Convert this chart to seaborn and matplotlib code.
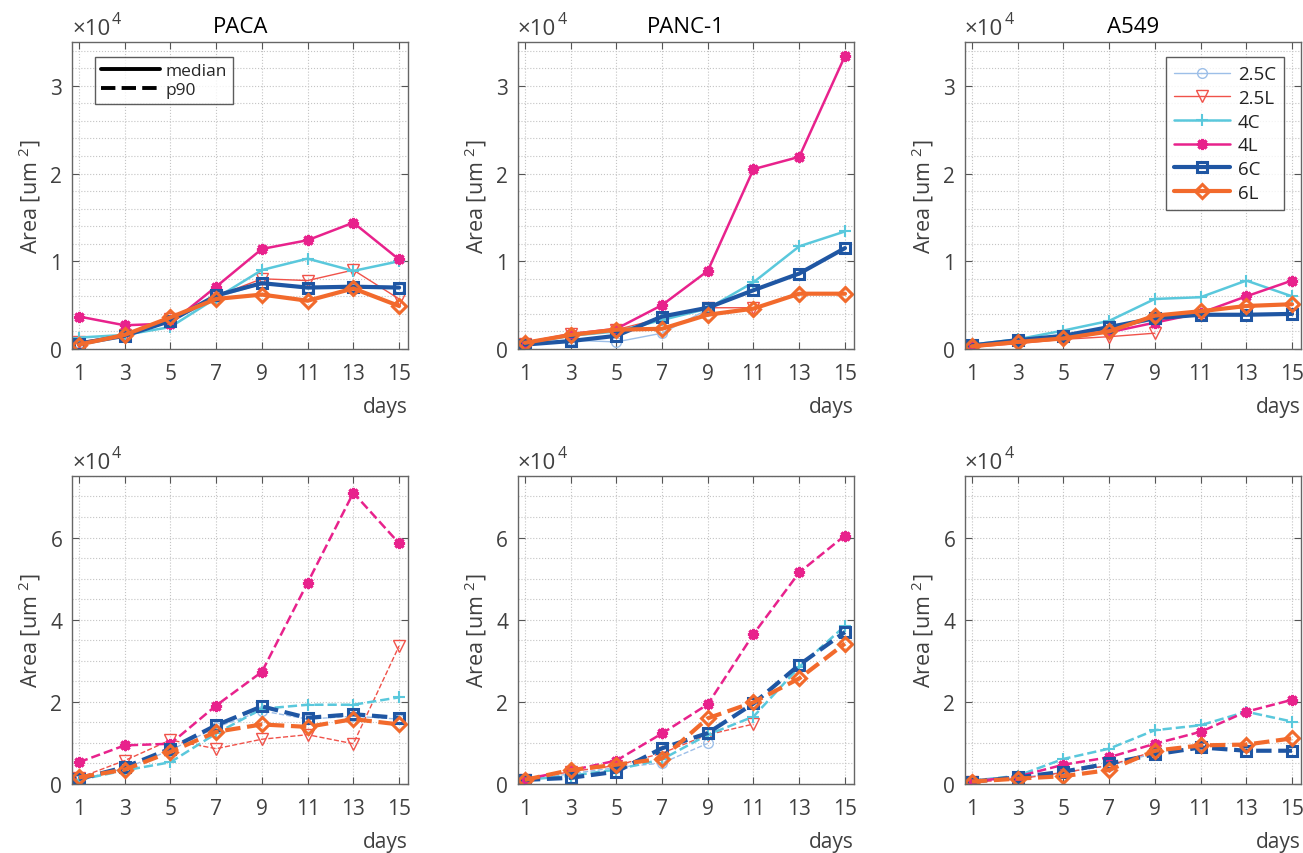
import matplotlib
matplotlib.use("Agg")
import pandas as pd
import matplotlib.pyplot as plt
import seaborn as sns
from matplotlib.ticker import MultipleLocator, FuncFormatter
from matplotlib.lines import Line2D

# Data (area in um^2)
days = [1, 3, 5, 7, 9, 11, 13, 15]
conditions = ["2.5C", "2.5L", "4C", "4L", "6C", "6L"]
cell_lines = ["PACA", "PANC-1", "A549"]

paca_median = {
    "2.5C": [700, 1500, 3100, 5900, 7400, 6900, 7000, 6900],
    "2.5L": [800, 1600, 3400, 6000, 8000, 7800, 9000, 5700],
    "4C": [1300, 1600, 2500, 5800, 9000, 10300, 8900, 10000],
    "4L": [3700, 2700, 2900, 7100, 11400, 12400, 14400, 10200],
    "6C": [600, 1500, 3200, 6100, 7500, 7000, 7100, 7000],
    "6L": [500, 1600, 3600, 5700, 6200, 5500, 6900, 4900],
}
panc_median = {
    "2.5C": [500, 1000, 800, 1800, 4500],
    "2.5L": [600, 1700, 2200, 3500, 4700, 4700],
    "4C": [600, 1500, 2000, 3300, 4600, 7600, 11700, 13400],
    "4L": [700, 1700, 2300, 5000, 8900, 20500, 21900, 33400],
    "6C": [500, 900, 1500, 3700, 4700, 6700, 8600, 11500],
    "6L": [700, 1600, 2200, 2300, 3900, 4600, 6300, 6300],
}
a549_median = {
    "2.5C": [400, 900, 1400, 2300, 3300],
    "2.5L": [200, 600, 1100, 1400, 1800],
    "4C": [500, 1100, 2100, 3200, 5700, 5900, 7800, 6000],
    "4L": [400, 900, 1500, 1900, 3000, 4100, 6000, 7800],
    "6C": [400, 1000, 1500, 2500, 3500, 3900, 3900, 4000],
    "6L": [300, 800, 1200, 2000, 3800, 4300, 4900, 5100],
}
paca_p90 = {
    "2.5C": [1000, 3800, 8200, 13800, 17800, 15800, 16500, 15800],
    "2.5L": [1500, 5700, 10700, 8600, 10900, 12000, 9800, 33600],
    "4C": [1000, 3300, 5300, 12300, 18300, 19300, 19300, 21100],
    "4L": [5300, 9400, 9800, 19100, 27300, 49000, 70900, 58600],
    "6C": [1200, 4100, 8600, 14300, 18900, 16100, 17000, 16100],
    "6L": [1600, 3500, 7800, 12700, 14500, 13900, 15800, 14500],
}
panc_p90 = {
    "2.5C": [800, 2500, 4000, 5100, 9900],
    "2.5L": [1000, 3000, 4500, 7500, 12000, 14600],
    "4C": [1000, 2000, 3500, 6000, 12000, 16400, 28500, 38500],
    "4L": [1200, 3300, 5700, 12300, 19400, 36500, 51500, 60500],
    "6C": [1000, 1500, 3000, 8700, 12400, 19600, 29000, 37000],
    "6L": [1000, 3400, 4700, 6200, 16000, 19900, 25700, 34200],
}
a549_p90 = {
    "2.5C": [500, 1500, 2800, 4500, 7500],
    "2.5L": [400, 1200, 2800, 4500, 8000],
    "4C": [800, 2000, 6100, 8600, 13100, 14300, 17600, 15200],
    "4L": [600, 1800, 4700, 6500, 9800, 12700, 17600, 20500],
    "6C": [600, 1600, 3000, 5000, 7200, 8900, 8100, 8100],
    "6L": [600, 1300, 1900, 3400, 8100, 9400, 9600, 11100],
}

# Styles
colors = {"2.5C": "#9dbfe8", "2.5L": "#f0524a", "4C": "#5ac8dc",
          "4L": "#e8228c", "6C": "#1f56a3", "6L": "#f26a2c"}
markers = {"2.5C": "o", "2.5L": "v", "4C": "+", "4L": (8, 2, 0),
           "6C": "s", "6L": "D"}
widths = {"2.5C": 1.0, "2.5L": 1.0, "4C": 1.8, "4L": 1.8, "6C": 3.0, "6L": 3.0}
msizes = {"2.5C": 7, "2.5L": 8, "4C": 9, "4L": 8, "6C": 6.5, "6L": 7.5}
mews = {"2.5C": 1.0, "2.5L": 1.0, "4C": 1.5, "4L": 2.2, "6C": 2.2, "6L": 2.2}

sns.set_theme(style="ticks")
plt.rcParams["font.family"] = ["Open Sans", "DejaVu Sans"]
plt.rcParams["mathtext.fontset"] = "custom"
plt.rcParams["mathtext.rm"] = "Open Sans"
plt.rcParams["mathtext.it"] = "Open Sans:italic"
plt.rcParams["mathtext.bf"] = "Open Sans:bold"

fig = plt.figure(figsize=(13.03, 8.54), dpi=100)
lefts = [0.0553, 0.3975, 0.7406]
rows = [
    (0.5902, 0.3595, [paca_median, panc_median, a549_median], "-", 35000, 10000, 2000),
    (0.0808, 0.3607, [paca_p90, panc_p90, a549_p90], "--", 75000, 20000, 5000),
]
text_col = "#404040"

for r, (bottom, height, datasets, ls, ymax, major, minor) in enumerate(rows):
    for c, data in enumerate(datasets):
        ax = fig.add_axes([lefts[c], bottom, 0.258, height])
        for cond in conditions:
            vals = data[cond]
            df = pd.DataFrame({"day": days[:len(vals)], "area": vals})
            sns.lineplot(data=df, x="day", y="area", ax=ax, color=colors[cond],
                         marker=markers[cond], markersize=msizes[cond],
                         markeredgewidth=mews[cond], markeredgecolor=colors[cond],
                         markerfacecolor="none", linewidth=widths[cond],
                         linestyle=ls, legend=False)
        ax.set_xlim(0.7, 15.4)
        ax.set_ylim(0, ymax)
        ax.set_xticks(days)
        ax.yaxis.set_major_locator(MultipleLocator(major))
        ax.yaxis.set_minor_locator(MultipleLocator(minor))
        ax.yaxis.set_major_formatter(FuncFormatter(lambda v, p: f"{v / 1e4:g}"))
        ax.grid(which="major", ls=":", color="#c4c4c4", lw=0.8)
        ax.grid(which="minor", axis="y", ls=":", color="#c4c4c4", lw=0.8)
        ax.set_axisbelow(True)
        ax.tick_params(which="major", direction="in", top=True, right=True,
                       length=5, width=0.8, color="#555555",
                       labelcolor=text_col, labelsize=15)
        ax.tick_params(axis="x", pad=10)
        ax.tick_params(axis="y", pad=7)
        ax.tick_params(which="minor", length=0)
        for sp in ax.spines.values():
            sp.set_color("#666666")
            sp.set_linewidth(1.0)
        ax.set_xlabel("days", loc="right", fontsize=15, color=text_col, labelpad=9)
        ax.set_ylabel("Area [um $^{2}$]", fontsize=15.5, color=text_col, labelpad=5)
        # scale factor above the y axis
        ax.annotate("×10", xy=(0, 1), xycoords="axes fraction", xytext=(0, 2),
                    textcoords="offset points", ha="left", va="bottom",
                    fontsize=16, color=text_col)
        ax.annotate("4", xy=(0, 1), xycoords="axes fraction", xytext=(28.5, 11),
                    textcoords="offset points", ha="left", va="bottom",
                    fontsize=11.5, color=text_col)
        if r == 0:
            ax.set_title(cell_lines[c], fontsize=16, color="black", pad=7)

        if r == 0 and c == 0:
            handles = [Line2D([], [], color="black", lw=2.8, ls="-"),
                       Line2D([], [], color="black", lw=2.8, ls="--")]
            leg = ax.legend(handles, ["median", "p90"], loc="upper left",
                            bbox_to_anchor=(0.068, 0.951), borderaxespad=0,
                            fontsize=12.5, handlelength=3.4, fancybox=False,
                            frameon=True, labelspacing=0.15, borderpad=0.35,
                            handletextpad=0.3)
            leg.get_frame().set_edgecolor("#333333")
            leg.get_frame().set_linewidth(1.0)
        if r == 0 and c == 2:
            handles = [Line2D([], [], color=colors[k], marker=markers[k],
                              markersize=msizes[k], markeredgewidth=mews[k],
                              markerfacecolor="none", lw=widths[k])
                       for k in conditions]
            leg = ax.legend(handles, conditions, loc="upper right",
                            bbox_to_anchor=(0.95, 0.951), borderaxespad=0,
                            fontsize=13.5, handlelength=3.0, fancybox=False,
                            frameon=True, numpoints=1, labelspacing=0.3,
                            borderpad=0.45, handletextpad=0.4)
            leg.get_frame().set_edgecolor("#333333")
            leg.get_frame().set_linewidth(1.0)
            for t in leg.get_texts():
                t.set_color("#222222")

fig.savefig("out.png", dpi=100)
